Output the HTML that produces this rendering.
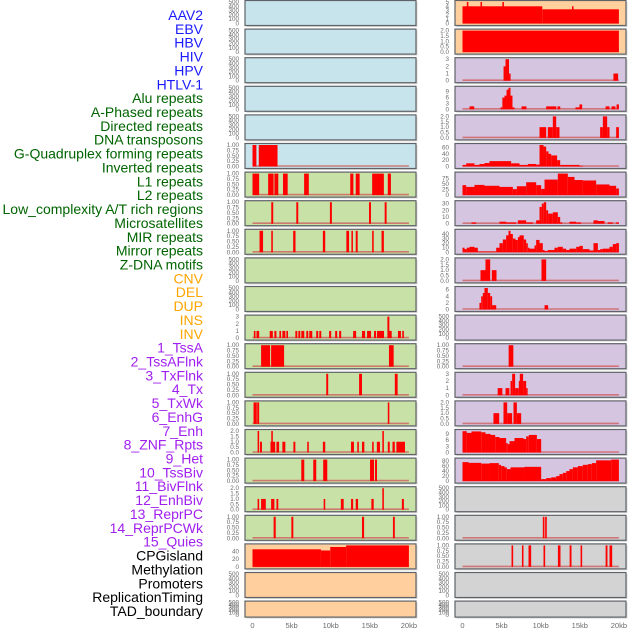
<!DOCTYPE html>
<html><head><meta charset="utf-8">
<style>
html,body{margin:0;padding:0;background:#fff;width:630px;height:630px;overflow:hidden}
svg{display:block;font-family:"Liberation Sans",sans-serif}
</style></head>
<body>
<svg id="chart" width="630" height="630" viewBox="0 0 630 630"></svg>
<script>
// ---------- data ----------
const trackLabels = ["AAV2","EBV","HBV","HIV","HPV","HTLV-1","Alu repeats","A-Phased repeats","Directed repeats","DNA transposons","G-Quadruplex forming repeats","Inverted repeats","L1 repeats","L2 repeats","Low_complexity A/T rich regions","Microsatellites","MIR repeats","Mirror repeats","Z-DNA motifs","CNV","DEL","DUP","INS","INV","1_TssA","2_TssAFlnk","3_TxFlnk","4_Tx","5_TxWk","6_EnhG","7_Enh","8_ZNF_Rpts","9_Het","10_TssBiv","11_BivFlnk","12_EnhBiv","13_ReprPC","14_ReprPCWk","15_Quies","CPGisland","Methylation","Promoters","ReplicationTiming","TAD_boundary"];
const labelGroupSizes = [6,13,5,15,5];
const labelGroupColors = ["#1a1aff","#006400","#ffa500","#a020f0","#000000"];
const xTickLabels = ["0","5kb","10kb","15kb","20kb"];
const xTickValues = [0,5,10,15,20];

const ticksEmpty = ["0","100","200","300","400","500"];
const ticks01 = ["0.00","0.25","0.50","0.75","1.00"];
const ticks02 = ["0.0","0.5","1.0","1.5","2.0"];

// left column
const L5 = [[0,0.5,1],[0.8,3.2,1]];
const L6 = [[0,0.85,1],[2.0,2.7,1],[2.8,3.3,1],[3.9,4.5,1],[6.6,7.2,1],[12.5,12.9,1],[13.2,13.7,1],[15.3,16.8,1],[17.3,17.7,1]];
const L7 = [[2.4,2.65,1],[5.6,5.85,1],[9.9,10.15,1],[14.9,15.15,1],[16.9,17.15,1]];
const L8 = [[0.9,1.35,1],[2.4,2.6,1],[5.2,5.5,1],[9.0,9.3,1],[12.0,12.35,1],[12.65,12.8,1],[13.2,13.45,1],[15.3,15.5,1],[16.5,16.8,1]];
const L11 = [[0.17,0.38,1],[0.51,0.85,1],[2.2,2.6,1],[2.8,3.06,1],[3.44,3.65,1],[3.82,4.2,1],[4.33,4.54,1],[5.48,5.73,1],[5.86,6.11,1],[6.24,6.62,1],[6.88,7.13,1],[7.26,7.64,1],[8.15,8.4,1],[8.54,8.79,1],[9.8,10.06,1],[10.57,10.83,1],[11.08,11.34,1],[12.87,13.25,1],[14.0,14.4,1],[14.65,15.16,1],[15.54,15.8,1],[15.92,16.82,1],[17.25,17.5,3],[17.45,17.8,1],[18.6,18.98,1],[19.15,19.36,1]];
const L12 = [[1.1,2.25,1],[2.38,4.04,1],[17.45,18.05,1]];
const L13 = [[9.43,9.68,1],[13.63,14.0,1],[18.2,18.56,1]];
const L14 = [[0.13,0.55,1],[0.6,0.85,1],[17.3,17.5,1]];
const L15 = [[0.65,0.85,2],[0.96,1.21,1],[2.3,2.9,1],[2.4,2.6,2],[3.06,3.4,1],[3.82,4.2,1],[5.23,5.48,1],[7.0,7.2,1],[9.0,9.3,1],[12.6,12.97,1],[13.4,13.6,1],[14.0,14.3,1],[15.3,15.5,1],[15.9,16.3,1],[16.6,16.8,2],[17.3,17.55,1],[17.9,18.2,1],[18.4,19.5,1]];
const L16 = [[6.24,6.62,1],[7.77,8.15,1],[9.04,9.56,1],[15.03,15.54,1],[15.67,15.92,1]];
const L17 = [[0.65,0.85,1],[1.1,1.7,1],[2.38,2.8,1],[3.06,3.3,1],[9.1,9.3,1],[11.3,11.66,1],[12.6,12.87,1],[13.2,13.5,1],[15.2,15.5,1],[16.6,16.8,2],[19.1,19.36,1]];
const L18 = [[2.7,2.97,1],[4.97,5.22,1],[14.0,14.27,1],[17.96,18.2,1]];
const L19 = [[0,8.75,45],[8.75,9.94,42],[9.94,11.97,51],[11.97,20,55]];

// right column
const R0 = [[0,10.2,4],[10.2,20,3.3],[0.55,0.75,5],[2.3,2.5,5],[5.1,5.3,5],[14.0,14.2,4]];
const R1 = [[0,20,2]];
const R2 = [[5.25,5.5,2],[5.5,5.95,3],[5.95,6.15,1],[19.3,19.9,1]];
const R3 = [[0.9,1.5,1.5],[4.86,5.1,1],[5.1,5.37,6],[5.37,5.63,7],[5.63,5.88,10],[5.88,6.14,11],[6.14,6.39,7],[6.39,6.65,1],[7.55,8.18,1.5],[10.7,12.0,1.5],[12.15,12.5,1.5],[14.45,14.96,1],[14.96,15.3,2.5],[18.3,18.8,1.5],[19.05,19.56,1.5],[19.7,20,2.5]];
const R4 = [[9.85,10.7,1],[10.91,11.55,1],[11.55,11.98,2],[11.98,12.4,1],[17.6,17.95,1],[17.95,18.5,2],[18.5,18.8,1],[19.65,20,1]];
const R5 = [[0,0.47,5],[0.47,1.53,10],[1.53,2.17,5],[2.17,2.81,8],[2.81,3.45,11],[3.45,6.22,17],[6.22,7.29,10],[7.29,8.35,5],[8.35,9.42,8],[9.42,9.85,6],[9.85,10.36,68],[10.36,10.7,63],[10.7,11.0,48],[11.0,11.34,40],[11.34,12.1,35],[12.1,12.49,20],[12.49,14.96,5],[14.96,15.39,2]];
const R6 = [[0,0.47,45],[0.47,1.53,37],[1.53,2.81,46],[2.81,4.73,42],[4.73,6.44,37],[6.44,6.95,27],[6.95,8.14,40],[8.14,9.42,58],[9.42,10.06,45],[10.06,10.49,28],[10.49,12.19,70],[12.19,13.47,97],[13.47,14.32,82],[14.32,15.39,68],[15.39,17.09,66],[17.09,18.8,48],[18.8,19.65,42],[19.65,20,30]];
const R7 = [[1.15,1.75,2],[4.73,5.58,3],[5.58,6.86,2],[7.08,8.14,5],[8.14,9.0,2],[9.42,9.85,5],[9.85,10.14,25],[10.14,10.4,30],[10.4,10.7,32],[10.7,10.95,20],[10.95,11.55,15],[11.55,12.19,17],[12.19,12.49,10],[12.49,12.75,2],[13.68,14.54,3],[14.54,15.17,2],[16.75,17.31,5],[17.31,18.16,4],[18.58,19.22,2],[19.65,20,2]];
const R8 = [[0,0.26,10],[0.26,0.55,7],[0.55,0.9,10],[0.9,1.53,12],[1.53,1.96,10],[1.96,4.31,1.5],[4.31,4.73,10],[4.73,5.16,20],[5.16,5.58,28],[5.58,5.88,37],[5.88,6.14,47],[6.14,6.44,40],[6.44,6.78,30],[6.78,7.08,27],[7.08,7.29,33],[7.29,7.84,37],[7.84,8.14,28],[8.14,8.35,20],[8.35,8.57,10],[8.57,9.21,8],[9.21,9.42,15],[9.42,9.85,27],[9.85,10.27,20],[10.27,10.49,5],[10.49,10.91,3],[10.91,11.76,5],[11.76,12.19,10],[12.19,12.83,12],[12.83,13.26,8],[13.26,13.68,5],[13.68,14.54,8],[14.54,14.96,12],[14.96,15.39,14],[15.39,16.24,7],[16.24,16.75,4],[16.75,17.31,20],[17.31,17.6,5],[17.6,17.95,7],[17.95,18.8,8],[18.8,19.22,12],[19.22,19.65,18],[19.65,20,20]];
const R9 = [[2.3,2.94,1],[2.94,3.54,2],[3.75,4.35,1],[10.1,10.7,2]];
const R10 = [[2.17,2.39,2],[2.39,2.6,4],[2.6,2.81,5],[2.81,3.24,6.5],[3.24,3.54,5],[3.54,3.79,4],[3.79,4.31,1.3],[10.49,10.95,1.3]];
const R12 = [[5.9,6.5,1]];
const R13 = [[4.5,5.1,1],[5.5,6.0,1],[6.14,6.35,2],[6.35,6.73,3],[6.73,7.2,1],[7.2,7.33,2],[7.33,7.75,3],[7.75,8.14,2],[8.14,8.3,1]];
const R14 = [[3.96,4.69,1],[5.24,5.71,2],[5.71,6.35,1],[6.52,6.95,2],[6.95,7.5,1]];
const R15 = [[0,0.55,10.3],[0.55,1.15,9.5],[1.15,2.39,10.2],[2.39,2.94,9.8],[2.94,3.58,9],[3.58,4.18,8.5],[4.18,4.73,7.5],[4.73,5.58,7],[5.58,5.8,4.5],[5.8,6.01,4],[6.01,6.65,5.5],[6.65,7.8,7],[7.8,8.14,6.5],[8.14,8.48,7.8],[8.48,9.51,8.5],[9.51,10.06,6.5]];
const R16 = [[0,0.77,76],[0.77,2.39,73],[2.39,3.45,70],[3.45,4.65,72],[4.65,4.94,65],[4.94,5.37,60],[5.37,5.67,55],[5.67,6.14,48],[6.14,7.93,55],[7.93,10.06,57],[10.06,10.7,8],[10.7,11.34,12],[11.34,11.98,15],[11.98,12.4,20],[12.4,12.83,28],[12.83,13.26,33],[13.26,13.68,40],[13.68,14.11,48],[14.11,14.75,55],[14.75,15.39,60],[15.39,16.03,65],[16.03,16.54,68],[16.54,17.09,72],[17.09,19.01,83],[19.01,20,86]];
const R18 = [[10.27,10.48,1],[10.57,10.78,1]];
const R19 = [[6.27,6.48,1],[7.6,7.8,1],[8.44,8.78,1],[10.36,10.57,1],[12.2,12.53,1],[13.7,13.94,1],[15.1,15.3,1],[18.3,18.54,1],[18.8,19.14,1]];

const E = null;
const leftData  = [E,E,E,E,E,L5,L6,L7,L8,E,E,L11,L12,L13,L14,L15,L16,L17,L18,L19,E,E];
const leftMax   = [500,500,500,500,500,1,1,1,1,500,500,3,1,1,1,2,1,2,1,55,500,500];
const rightData = [R0,R1,R2,R3,R4,R5,R6,R7,R8,R9,R10,E,R12,R13,R14,R15,R16,E,R18,R19,E,E];
const rightMax  = [5,2,3,11,2,68,97,32,47,2,6.5,500,1,3,2,10.4,86,500,1,1,500,500];
const leftTicks = {11:["0","1","2","3"],15:ticks02,17:ticks02,19:["0","20","40"]};
const leftTickVals = {11:[0,1,2,3],15:[0,0.5,1,1.5,2],17:[0,0.5,1,1.5,2],19:[0,20,40]};
const rightTicks = {0:["0","1","2","3","4","5"],1:ticks02,2:["0","1","2","3"],3:["0","3","6","9"],4:ticks02,5:["0","20","40","60"],6:["0","25","50","75"],7:["0","10","20","30"],8:["0","10","20","30","40"],9:ticks02,10:["0","2","4","6"],13:["0","1","2","3"],14:ticks02,15:["0","3","6","9"],16:["0","20","40","60","80"]};
const leftBg = i => i<=5 ? "#c7e3eb" : (i<=18 ? "#c8e1a6" : "#ffd09e");
const rightBg = i => i<=1 ? "#ffd09e" : (i<=16 ? "#d5c5e1" : "#d3d3d3");

// ---------- drawing ----------
const NS = "http://www.w3.org/2000/svg";
const svg = document.getElementById("chart");
function mk(tag, attrs, parent){ const e=document.createElementNS(NS,tag); for(const k in attrs) e.setAttribute(k,attrs[k]); (parent||svg).appendChild(e); return e; }

let li = 0;
labelGroupSizes.forEach((n,g)=>{
  for(let k=0;k<n;k++){
    const t = mk("text",{x:203,y:20+li*13.86,"text-anchor":"end","font-size":"14",fill:labelGroupColors[g]});
    t.textContent = trackLabels[li];
    
    
    li++;
  }
});

const colX = [245, 455];
const PW = 171;
const xScale = (col, kb) => colX[col] + 7.5 + kb*7.82;

function panel(col, i, data, ymax, tv, tl, bg){
  const top = 0.5 + i*28.6;
  const h = (i===21) ? 16 : 25;
  const g = mk("g",{});
  
  
  mk("rect",{x:colX[col]+1.5,y:top+1.5,width:PW,height:h,fill:"#d8d8d8"},g);
  mk("rect",{x:colX[col],y:top,width:PW,height:h,fill:bg,stroke:"#5f6368","stroke-width":1.2},g);
  const bottom = top + h;
  const yS = v => bottom - 2 - v/ymax*(h-3.5);
  let vals, labs;
  if(!data){ vals=[0,100,200,300,400,500]; labs=ticksEmpty; }
  else if(tl){ vals=tv; labs=tl; }
  else { vals=[0,0.25,0.5,0.75,1]; labs=ticks01; }
  vals.forEach((v,k)=>{
    const t = mk("text",{x:colX[col]-6,y:yS(v)+2,"text-anchor":"end","font-size":"6.3",fill:"#6b6b6b"},g);
    t.textContent = labs[k];
    
    
  });
  if(!data) return;
  mk("line",{x1:xScale(col,0),x2:xScale(col,20),y1:yS(0)-0.5,y2:yS(0)-0.5,stroke:"#d06060","stroke-width":1.6,opacity:0.8},g);
  data.forEach(d=>{
    const x1 = xScale(col,d[0]), x2 = xScale(col,d[1]);
    const r = mk("rect",{x:x1,y:yS(d[2]),width:Math.max(1.5,x2-x1),height:yS(0)-yS(d[2]),fill:"#ff0000"},g);
    
    
  });
}
for(let i=0;i<22;i++){
  panel(0,i,leftData[i],leftMax[i],leftTickVals[i],leftTicks[i],leftBg(i));
  const rtv = rightTicks[i] ? rightTicks[i].map(Number) : null;
  panel(1,i,rightData[i],rightMax[i],rtv,rightTicks[i],rightBg(i));
}
[0,1].forEach(col=>{
  xTickValues.forEach((v,k)=>{
    const t = mk("text",{x:xScale(col,v),y:628,"text-anchor":"middle","font-size":"7.5",fill:"#6b6b6b"});
    t.textContent = xTickLabels[k];
    
    
  });
});
</script>
</body></html>
